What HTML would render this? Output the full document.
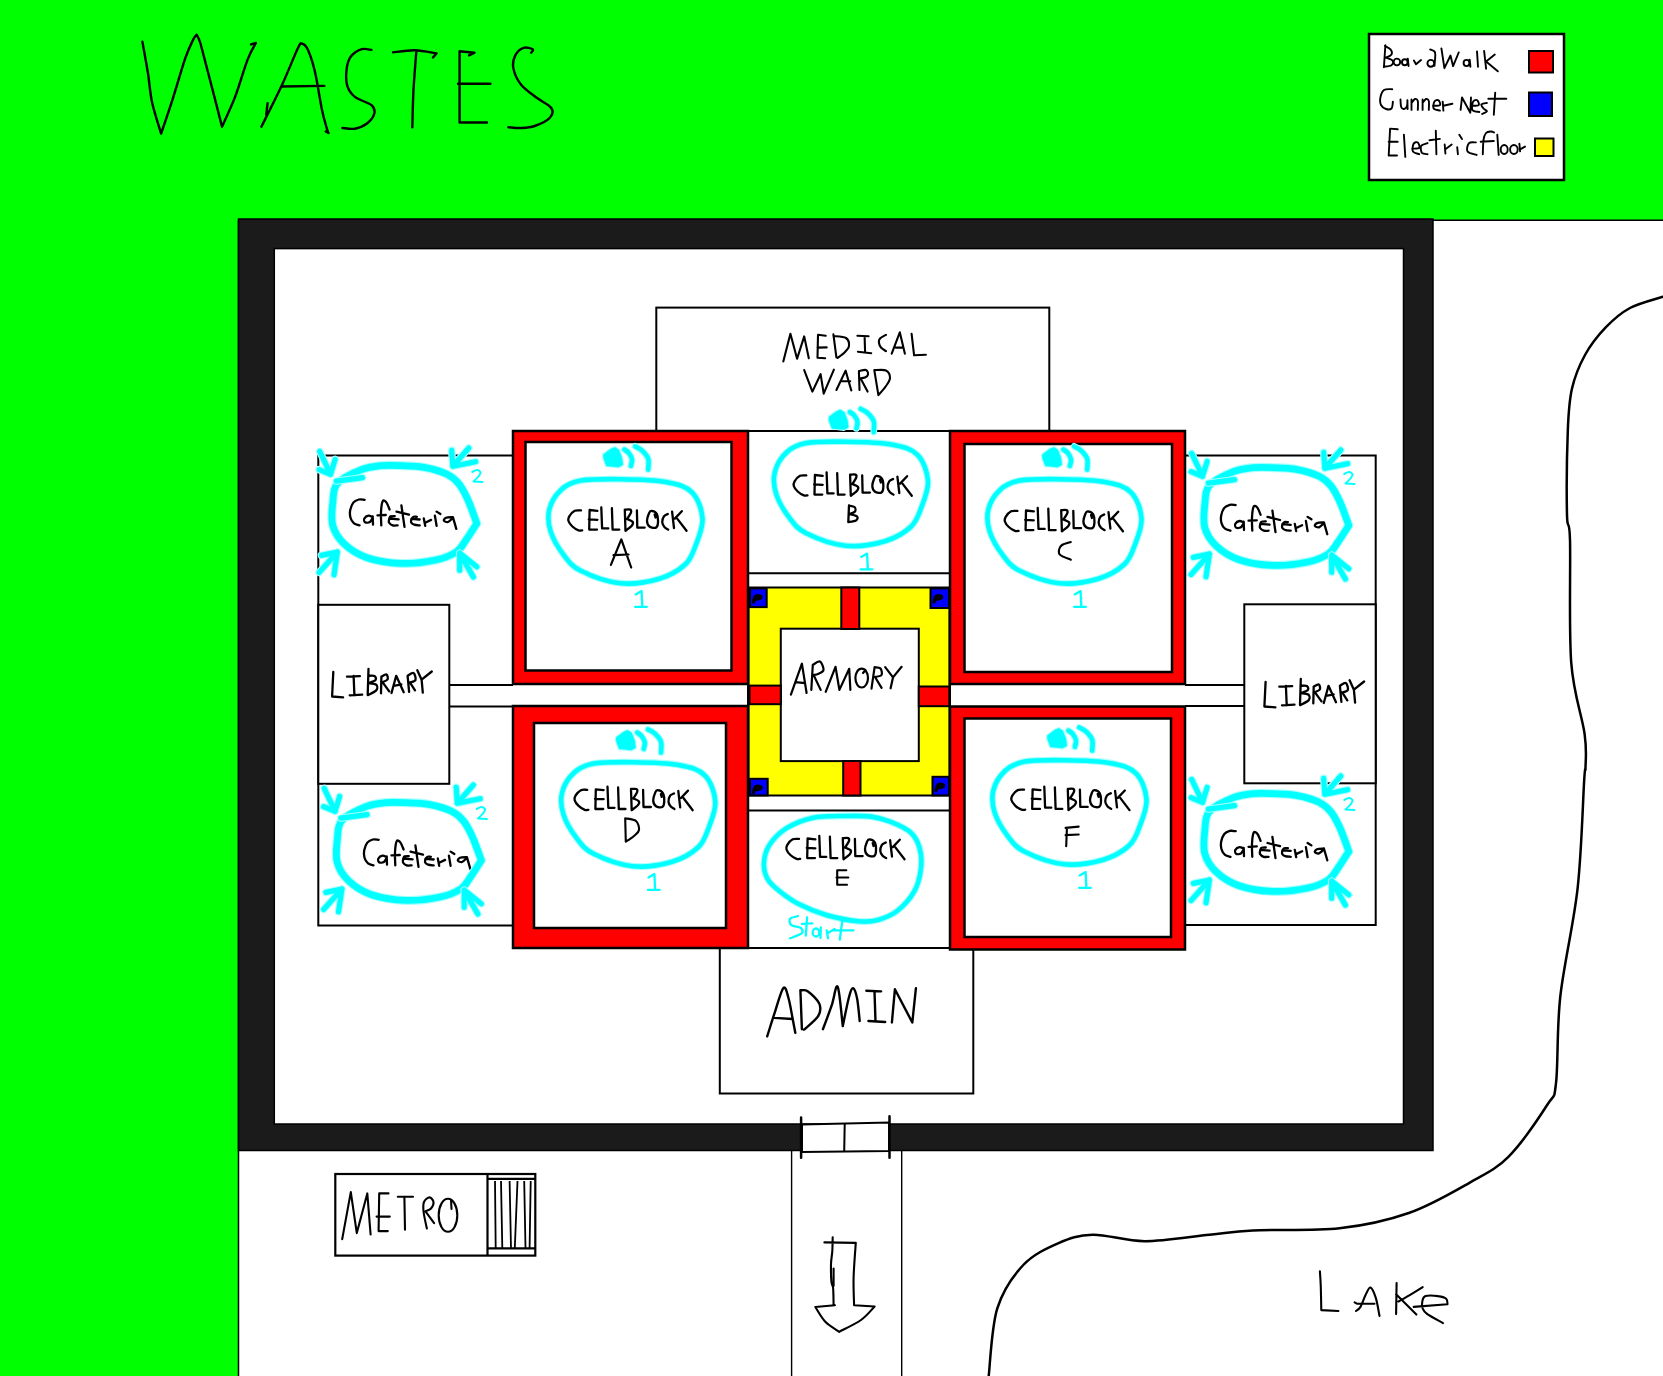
<!DOCTYPE html>
<html><head><meta charset="utf-8">
<style>
html,body{margin:0;padding:0;background:#fff;overflow:hidden;}
svg{display:block;}
</style></head>
<body>
<svg width="1663" height="1376" viewBox="0 0 1663 1376">
<g id="bg">
<rect x="0" y="0" width="1663" height="1376" fill="#fff"/>
<rect x="0" y="0" width="1663" height="220" fill="#00ff00"/>
<rect x="0" y="0" width="238" height="1376" fill="#00ff00"/>
<path d="M238.5,1376 L238.5,220 M1433,220.2 L1663,220.2" stroke="#000" stroke-width="1.5" fill="none"/>
</g>
<g id="frame">
<rect x="238.5" y="219" width="1194.5" height="931.5" fill="#1b1b1b" stroke="#000" stroke-width="1.5"/>
<rect x="274.3" y="248.6" width="1129.2" height="875.4" fill="#fff" stroke="#000" stroke-width="1.5"/>
</g>
<g id="legend">
<rect x="1369" y="34" width="195" height="146" fill="#fff" stroke="#000" stroke-width="2.5"/>
<rect x="1529" y="51" width="24" height="21.5" fill="#ff0000" stroke="#000" stroke-width="2"/>
<rect x="1529" y="92.5" width="23" height="23.5" fill="#0000ff" stroke="#000" stroke-width="2"/>
<rect x="1535" y="138.5" width="18.5" height="17.5" fill="#ffff00" stroke="#000" stroke-width="2"/>
</g>
<g id="rooms" fill="none" stroke="#000" stroke-width="2">
<rect x="656.3" y="307.6" width="393" height="123.5" fill="#fff"/>
<!-- left cafeteria / library -->
<path d="M513,455.5 L318.3,455.5 L318.3,925.5 L513,925.5"/>
<rect x="318.3" y="604.8" width="131" height="179" fill="#fff"/>
<path d="M449.4,685 L513,685 M449.4,706.5 L513,706.5"/>
<!-- right cafeteria / library -->
<path d="M1185,455.5 L1375.7,455.5 L1375.7,925 L1185,925"/>
<rect x="1244.3" y="604.3" width="131.4" height="179" fill="#fff"/>
<path d="M1185,685 L1244.3,685 M1185,706 L1244.3,706"/>
<!-- center column -->
<rect x="748" y="431" width="202" height="517" fill="#fff"/>
<path d="M748,573.3 L950,573.3 M748,810.5 L950,810.5"/>
<rect x="748.5" y="587.5" width="201" height="208" fill="#ffff00"/>
<rect x="780.8" y="628.7" width="138" height="132.4" fill="#fff"/>
<!-- admin -->
<rect x="719.8" y="948" width="253.5" height="145.5" fill="#fff"/>
</g>
<g id="armory-bars" stroke="#000" stroke-width="2">
<rect x="841.3" y="587.5" width="18" height="41.5" fill="#ff0000"/>
<rect x="843.2" y="761" width="17.3" height="34.5" fill="#ff0000"/>
<rect x="749.5" y="685.6" width="31.3" height="18.6" fill="#ff0000"/>
<rect x="918.8" y="686.5" width="30.5" height="19.7" fill="#ff0000"/>
<rect x="750" y="588.4" width="16.7" height="18.7" fill="#0000ff"/>
<rect x="930.5" y="588.4" width="18.5" height="19.6" fill="#0000ff"/>
<rect x="750" y="778.8" width="17.7" height="16.6" fill="#0000ff"/>
<rect x="932.5" y="776.8" width="16.5" height="18.6" fill="#0000ff"/>
</g>
<g id="cellblocks" stroke="#000" stroke-width="2.5">
<rect x="513" y="431" width="235" height="253" fill="#ff0000"/>
<rect x="525.5" y="442" width="206" height="228.5" fill="#fff"/>
<rect x="513" y="706" width="235" height="242" fill="#ff0000"/>
<rect x="534" y="723" width="192" height="205" fill="#fff"/>
<rect x="950" y="431" width="235" height="253" fill="#ff0000"/>
<rect x="964.5" y="444" width="207.5" height="228" fill="#fff"/>
<rect x="950" y="706.5" width="235" height="243" fill="#ff0000"/>
<rect x="964.5" y="718.5" width="206.5" height="218.5" fill="#fff"/>
</g>
<g id="bottom" fill="none" stroke="#000">
<path d="M791.6,1151 L791.6,1376 M901.7,1151 L901.7,1376" stroke-width="1.4"/>
<path d="M802,1124.5 L889,1122.5 L889,1151 L802,1152 Z" fill="#fff" stroke-width="2"/>
<path d="M844.7,1124 L844.2,1151.5" stroke-width="2"/>
<path d="M801.1,1117.6 L801.1,1157.7 M889.5,1116.2 L889.5,1157.7" stroke-width="2.5" stroke-linecap="round"/>
<rect x="335.3" y="1174" width="200" height="81.6" fill="#fff" stroke-width="2.2"/>
<path d="M487.5,1174 L487.5,1255.6 M487.5,1178.9 L535.3,1178.9 M487.5,1248.3 L536,1248.3" stroke-width="2.2"/>
<path d="M495,1181 L495.7,1248 M501,1181 L502.3,1248 M509.6,1181 L511,1248 M517.5,1181 L514.8,1248 M524.2,1181 L525.5,1248 M530.7,1181 L529.6,1248" stroke-width="1.8"/>
</g>
<g id="hand">
<path d="M142.4,41.6 C143.3,46.9 146.4,63.3 148,73.4 C149.6,83.6 149.9,92.5 152.1,102.5 C154.3,112.5 159.6,128.4 161.1,133.6 M161.1,133.6 C163.1,127.7 168.9,110.9 172.9,98.3 C176.9,85.7 182,67.9 185.3,58.2 C188.7,48.5 191.1,43.9 193,40 C194.9,36.1 196.1,35.6 196.7,34.7 M196.7,34.7 C197.2,35.9 198.7,37.9 200,42 C201.3,46.1 202.3,50.5 204.7,59.6 C207.1,68.8 211.5,85.7 214.4,96.9 C217.3,108.1 220.7,121.7 222,126.7 M222,126.7 C224.2,121.7 230.8,108.1 235.1,96.9 C239.4,85.7 244.1,68.6 247.6,59.6 C251.1,50.6 254.5,45.8 255.9,43 M255.9,43 L251,44.4 M261.4,126.7 C264.8,119.8 275.9,98.1 282,85 C288.1,71.9 294.6,54.9 298,48 C301.4,41.1 300.5,43.4 302.2,43.7 C303.9,44 305.9,45.3 308,50 C310.1,54.7 312.7,62 315,72 C317.3,82 320,100.5 322,110 C324,119.5 325.9,125.2 327,129 C328.1,132.8 328.2,132.2 328.5,132.9 M328.5,132.9 L325.7,131.5 M281.5,86.5 L324.3,85.9 M267.6,103.1 L266.2,114.9 M371.5,49.9 C369.9,49.8 365.3,48.1 361.8,49.2 C358.3,50.4 353.2,53.4 350.7,56.8 C348.2,60.1 347.2,64.4 346.6,69.3 C346,74.2 345.9,81.3 347.3,85.9 C348.7,90.5 350.9,93.7 354.9,96.9 C358.9,100.1 368.3,102.4 371.5,105.2 C374.7,108 375,110.5 374.3,113.5 C373.6,116.5 370.5,120.7 367.3,123.2 C364.1,125.7 359,127.9 354.9,128.7 C350.8,129.5 344.5,128.1 342.4,128 M393,52.4 C396.7,52 407.8,50.1 415,50.3 C422.2,50.5 432.9,52.9 436.5,53.4 M436.5,53.4 L433,57.5 M416.4,50.6 C415.9,57.2 414.2,77.2 413.5,90 C412.8,102.8 412.5,121.2 412.3,127.4 M474.5,52.7 L459.6,51.3 L459.6,122.5 L487,122.5 M474.5,52.7 L469,55.4 M458,83.8 L490.4,83.8 M531.2,52.7 C531.4,52.1 533.9,50 532.6,49.2 C531.3,48.4 526.5,46.8 523.6,47.8 C520.7,48.8 517,52 515.3,55.4 C513.6,58.8 512.4,63.1 513.3,67.9 C514.2,72.8 516.9,79.4 520.9,84.5 C524.9,89.6 532.4,94.4 537.5,98.3 C542.6,102.2 549.2,104.8 551.3,108 C553.4,111.2 552.7,114.7 549.9,117.7 C547.1,120.7 539.5,124.3 534.7,126 C529.9,127.7 525.3,127.8 520.9,128 C516.5,128.2 510.5,127.4 508.4,127.3" fill="none" stroke="#000" stroke-width="2.4" stroke-linecap="round" stroke-linejoin="round"/>
<path d="M1385.4,45.3 L1383.9,67.2 M1384.9,45.9 C1385.8,46.5 1389.4,48 1390.5,49.4 C1391.6,50.8 1392.3,53.1 1391.5,54.5 C1390.7,55.9 1386.8,57.1 1385.9,57.6 M1385.9,57.6 C1387,58.1 1391.7,59.3 1392.6,60.6 C1393.5,61.9 1393,64.2 1391.5,65.2 C1390,66.2 1385.2,66.5 1383.9,66.7 M1393.6,62 a3.3,3.4 0 1,0 6.6,0 a3.3,3.4 0 1,0 -6.6,0 M1402,62.3 a2.8,3 0 1,0 5.6,0 a2.8,3 0 1,0 -5.6,0 M1407.8,58.6 L1408.6,66 M1413.9,60.6 L1416,64.2 L1421,60.1 M1427.4,63.3 a3.4,3.4 0 1,0 6.8,0 a3.4,3.4 0 1,0 -6.8,0 M1430.2,49.4 C1430.9,49.8 1433.7,50.6 1434.5,51.5 C1435.3,52.4 1435.3,52.6 1435.3,55 C1435.3,57.4 1434.6,63.9 1434.5,65.7 M1441.4,48.4 L1444.4,68.2 L1450.5,55.5 L1453.1,66.2 L1458.7,52.5 M1463.6,63 a2.9,3.1 0 1,0 5.8,0 a2.9,3.1 0 1,0 -5.8,0 M1469.7,59.6 L1470.4,66.7 M1477,51.4 L1478,66.7 M1484.1,50.9 L1486.1,68.7 M1494.8,54.5 L1486.1,61.6 L1497.8,71.3 M1392.2,89.2 C1390.8,89.3 1386,88.6 1384,90 C1382,91.4 1380.9,95 1380.4,97.5 C1379.9,100 1380.1,103.1 1381,105 C1381.9,106.9 1384.2,108.4 1386,109 C1387.8,109.6 1390.3,109.7 1391.5,108.5 C1392.7,107.3 1392.7,102.8 1392.9,101.6 M1400.5,99.5 C1400.6,100.8 1400.6,105.4 1401.2,107 C1401.8,108.6 1403,109.2 1404,109 C1405,108.8 1406.4,107.5 1407,106 C1407.6,104.5 1407.3,101.2 1407.4,100.2 M1407.4,100.2 L1407.6,109 M1411.5,99.5 L1411.5,109.9 M1411.5,103 C1412.1,102.3 1414,99.3 1415,99 C1416,98.7 1417.3,99.2 1417.8,101 C1418.3,102.8 1417.8,108.4 1417.8,109.9 M1422.6,99.5 L1422.6,109.9 M1422.6,103 C1423.2,102.3 1425,99.3 1426,99 C1427,98.7 1428.3,99.2 1428.8,101 C1429.3,102.8 1428.8,108.4 1428.8,109.9 M1433,105.8 C1434.2,105.7 1439,106 1439.9,105.1 C1440.8,104.2 1439.4,100.8 1438.5,100.2 C1437.6,99.6 1435.2,100.2 1434.4,101.6 C1433.6,103 1432.8,107 1433.7,108.5 C1434.6,110 1438.9,110.2 1439.9,110.6 M1442.7,101.6 L1443.4,110.6 M1443.4,105.8 L1452.4,103.7 M1460.6,109.9 L1462,97.5 L1470.3,112.7 L1471,97.5 M1471.7,105.8 C1472.8,105.7 1477.7,106 1478.6,105.1 C1479.5,104.2 1478.1,100.8 1477.2,100.2 C1476.3,99.6 1473.9,100 1473.1,101.6 C1472.3,103.2 1471.4,108.2 1472.4,109.9 C1473.4,111.6 1478.2,111.7 1479.3,112 M1486.9,103 C1486,103.2 1482,103.5 1481.4,104.4 C1480.8,105.3 1482.6,107.3 1483.5,108.5 C1484.4,109.7 1487.1,110.4 1486.9,111.3 C1486.7,112.2 1482.9,113.5 1482.1,114 M1495.2,92.6 L1493.8,114.7 M1488.3,98.8 L1506.3,98.8 M1397.7,129.3 L1390.1,128.6 L1388.7,155.5 L1397,155.5 M1388.7,141.7 L1397.7,141.7 M1403.9,134.8 L1405.3,156.9 M1412.2,148.6 C1413.4,148.5 1418.3,148.9 1419.2,147.9 C1420.1,146.9 1418.7,143.1 1417.8,142.4 C1416.9,141.7 1414.4,142.3 1413.6,143.8 C1412.8,145.3 1412,149.7 1412.9,151.4 C1413.8,153.1 1418.2,153.7 1419.2,154.2 M1427.5,143.1 C1426.5,143.6 1422.1,144.3 1421.2,145.9 C1420.3,147.5 1420.9,151.4 1421.9,152.8 C1423,154.2 1426.6,154 1427.5,154.2 M1435.8,130.6 L1436.4,154.2 M1429.5,140.3 L1439.9,138.9 M1444.7,144.5 L1445.4,153.5 M1445.4,149.3 L1451.7,144.5 M1457.2,147.2 L1457.9,154.2 M1459.3,134.8 L1462,139 M1475.9,142.4 C1474.8,142.5 1470.4,141.6 1469,143.1 C1467.6,144.6 1466.3,149.4 1467.6,151.4 C1468.9,153.4 1475.1,154.3 1476.6,154.9 M1482.8,154.2 C1482.9,151.8 1483,143.5 1483.5,140 C1484,136.5 1484.8,134.4 1486,133 C1487.2,131.6 1489.7,131.6 1491,131.5 C1492.3,131.4 1493.5,132.3 1494,132.5 M1480.7,141.7 L1493.8,141 M1497.3,134.8 L1498.7,154.9 M1500.7,149.5 a3.5,4.5 0 1,0 7,0 a3.5,4.5 0 1,0 -7,0 M1510.1,149.5 a3.8,4.5 0 1,0 7.6,0 a3.8,4.5 0 1,0 -7.6,0 M1519.4,143.8 L1520.1,151.4 M1520.1,149.3 L1525,146.6" fill="none" stroke="#000" stroke-width="1.9" stroke-linecap="round" stroke-linejoin="round"/>
<path d="M783.3,361.4 L790.4,333.8 L797.1,358.8 L804.2,336.4 L808.8,358.3 M825.7,335.8 L818,334.8 L817.5,357.8 L825.2,358.3 M817.5,347.6 L826.7,347.4 M833.4,334.3 L836.4,357.3 M833.4,336 C835.5,336.3 843.4,336.3 846,338 C848.6,339.7 849.2,343.7 849,346 C848.8,348.3 846.9,350 845,352 C843.1,354 838.8,357 837.5,358 M857.4,335.8 L868.6,336.2 M864.6,336.4 L865.1,352.2 M857.9,351.7 L871.2,353.2 M886,334.8 C885,335.4 881.2,337.2 880,338.5 C878.8,339.8 878.7,341 878.9,342.5 C879.1,344 879.8,346.1 881,347.5 C882.2,348.9 885.2,350.6 886,351.2 M891.7,353.7 L899.8,332.3 L904.9,353.7 M895.7,347.6 L903.4,347.6 M911.6,333.8 L914.1,355.3 L925.9,354.8 M804.2,370.1 L812.4,391.6 L820.6,374.2 L823.7,393.6 L833.9,369.6 M836.4,390 L845.6,370.6 L851.3,390.5 M841.6,381.3 L850.2,381.3 M858.9,371.1 L859.5,390 M858.9,371.1 C860.1,370.9 864.5,369.4 866,370 C867.5,370.6 868.2,373.2 868,374.5 C867.8,375.8 866.3,376.9 865,377.5 C863.7,378.1 860.8,378.2 860,378.3 M860.5,378.3 L867.6,391.6 M874.3,370.1 L878.4,395.1 M874.3,370.1 C876.2,370.2 883.4,369.2 886,370.5 C888.6,371.8 890,375.4 890,378 C890,380.6 887.9,383.1 886,386 C884.1,388.9 879.7,393.6 878.4,395.1" fill="none" stroke="#000" stroke-width="2.1" stroke-linecap="round" stroke-linejoin="round"/>
<path d="M767.2,1036.3 C768.6,1032 772.6,1018.9 775.3,1010.8 C778,1002.7 781.3,989.8 783.5,987.8 C785.7,985.8 787.1,993.3 788.6,998.5 C790.1,1003.7 791.6,1013.3 792.7,1019 C793.8,1024.7 794.9,1030.5 795.3,1032.8 M774.3,1017.9 L792.7,1019 M800.4,990.3 L801.9,1029.2 M800.4,990.3 C801.7,990.5 804.9,989.2 808,991.4 C811.1,993.6 817.6,999.5 819.3,1003.6 C821,1007.7 820.8,1011.5 818.3,1015.9 C815.8,1020.2 806.4,1027.4 804,1029.7 M822.9,1029.2 C824.4,1025.3 829.1,1012.8 831.6,1005.7 C834.1,998.6 835.8,983.4 837.7,986.8 C839.6,990.2 841.9,1019.5 842.8,1026.1 M842.8,1026.1 C843.8,1021.3 847.2,1003.8 848.9,997.5 C850.6,991.2 851.6,988.1 853,988.3 C854.4,988.5 856,993 857.1,998.5 C858.2,1004 859.3,1017.2 859.7,1021 M866.3,990.8 L881.1,991.4 M874.5,991.4 L875.5,1021.5 M868.4,1021 L885.2,1022 M891.9,1022.5 L894.9,989.3 L912.3,1022.5 L915.9,988.3" fill="none" stroke="#000" stroke-width="2.4" stroke-linecap="round" stroke-linejoin="round"/>
<g><path d="M333.3,671.9 L332.1,696.5 L343.1,697.3 M347,676.6 L359.9,676.2 M353.6,675.8 L354.4,695.3 M349.7,695.3 L362.2,694.6 M368.5,668.8 L367.7,695 M368.5,675.8 C369.5,675.8 373.3,675.3 374.5,676 C375.7,676.7 376.5,678.8 375.5,680 C374.5,681.2 369.7,682.7 368.5,683.2 M368.5,683.2 C369.8,683.4 374.7,683.4 376,684.5 C377.3,685.6 377.8,688.2 376.5,690 C375.2,691.8 369.5,694.2 368.1,695 M381.4,676.6 L381,693.4 M381.4,676.6 C382.2,676.2 385.5,674 386.5,674.5 C387.5,675 388.2,678.2 387.5,679.5 C386.8,680.8 383.3,681.7 382.5,682.1 M382.5,682.1 L389.2,691.4 M391.5,693 L396.2,675.8 L403.7,692.2 M395.1,685.6 L401.3,684.4 M407.6,675.8 L409.1,691.8 M407.6,675.8 C408.6,675.3 412.2,672.3 413.5,673 C414.8,673.7 416.1,678.4 415.5,680 C414.9,681.6 410.8,682 409.9,682.4 M409.9,682.4 L415,690.3 M417.3,670.3 L421.6,679.7 L431.8,671.5 M421.6,679.7 L422.8,692.6" fill="none" stroke="#000" stroke-width="2.3" stroke-linecap="round" stroke-linejoin="round"/></g>
<g transform="translate(932.3,10)"><path d="M333.3,671.9 L332.1,696.5 L343.1,697.3 M347,676.6 L359.9,676.2 M353.6,675.8 L354.4,695.3 M349.7,695.3 L362.2,694.6 M368.5,668.8 L367.7,695 M368.5,675.8 C369.5,675.8 373.3,675.3 374.5,676 C375.7,676.7 376.5,678.8 375.5,680 C374.5,681.2 369.7,682.7 368.5,683.2 M368.5,683.2 C369.8,683.4 374.7,683.4 376,684.5 C377.3,685.6 377.8,688.2 376.5,690 C375.2,691.8 369.5,694.2 368.1,695 M381.4,676.6 L381,693.4 M381.4,676.6 C382.2,676.2 385.5,674 386.5,674.5 C387.5,675 388.2,678.2 387.5,679.5 C386.8,680.8 383.3,681.7 382.5,682.1 M382.5,682.1 L389.2,691.4 M391.5,693 L396.2,675.8 L403.7,692.2 M395.1,685.6 L401.3,684.4 M407.6,675.8 L409.1,691.8 M407.6,675.8 C408.6,675.3 412.2,672.3 413.5,673 C414.8,673.7 416.1,678.4 415.5,680 C414.9,681.6 410.8,682 409.9,682.4 M409.9,682.4 L415,690.3 M417.3,670.3 L421.6,679.7 L431.8,671.5 M421.6,679.7 L422.8,692.6" fill="none" stroke="#000" stroke-width="2.3" stroke-linecap="round" stroke-linejoin="round"/></g>
<path d="M790.9,694.6 L801.9,663.7 L806.6,693 M795.6,682.1 L805,683.2 M811.3,689.9 L812.8,664.9 M812.8,664.9 C814,664.3 818.2,660.6 820,661.5 C821.8,662.4 823.8,667.9 823.5,670 C823.2,672.1 819.6,673.2 818,674 C816.4,674.8 814.3,674.8 813.6,675 M813.6,675 L820.7,689.9 M825.7,691.8 L835.5,666.8 L839.4,689.9 L849.2,668.8 L850.4,689.9 M855.4,678.1 a6.3,9.4 0 1,0 12.6,0 a6.3,9.4 0 1,0 -12.6,0 M865.5,670 L863,673 M871.5,688.7 L874.6,667.2 M874.6,667.2 C875.6,667.4 879.4,667.2 880.5,668.5 C881.6,669.8 882.4,673.6 881.5,675 C880.6,676.4 876.1,676.7 875,677 M875,677 L881.6,687.9 M885.2,667.2 L893,677.4 L901.6,666.8 M893,677.4 L890.6,688.3" fill="none" stroke="#000" stroke-width="2.2" stroke-linecap="round" stroke-linejoin="round"/>
<path d="M342.2,1239.1 L350.8,1192.1 L356.8,1233.1 L367.3,1193.4 L370.6,1234.5 M388.5,1193.4 L379.2,1193.4 L378.6,1231.1 L387.8,1231.1 M376.6,1216.6 L389.8,1216.6 M397.8,1196.8 L413,1196.8 M404.4,1197.4 L405,1229.8 M426.9,1228.5 C426.3,1225.8 424.1,1216.4 423.6,1212 C423.1,1207.6 423,1204.4 424,1202 C425,1199.6 427.9,1197.4 429.5,1197.4 C431.1,1197.4 433.2,1200.2 433.5,1202 C433.8,1203.8 432.3,1207 431,1208.5 C429.7,1210 426.4,1210.8 425.5,1211.3 M425.5,1211.3 L434.1,1223.2 M438.7,1215.3 a9.3,16.5 0 1,0 18.6,0 a9.3,16.5 0 1,0 -18.6,0 M451,1199.5 L451.5,1209" fill="none" stroke="#000" stroke-width="2.1" stroke-linecap="round" stroke-linejoin="round"/>
<path d="M1319.9,1271.3 C1320.1,1273.9 1320.6,1280.6 1320.8,1287.1 C1321,1293.6 1321.2,1306.3 1321.3,1310.1 M1321.3,1310.1 L1338.4,1311 M1356,1311 C1356.8,1310.3 1358.8,1309.7 1360.5,1306.9 C1362.2,1304.1 1364.2,1297.5 1365.9,1294.3 C1367.6,1291.1 1368.8,1286.9 1370.4,1287.5 C1372.1,1288.1 1374.3,1293.2 1375.8,1297.9 C1377.3,1302.6 1378.9,1312.9 1379.5,1315.9 M1354.6,1302.4 L1356.9,1303.7 L1374.5,1303.7 M1396.6,1283 L1396.1,1314.1 M1422.7,1287.1 C1420.8,1288.3 1415,1291.9 1411,1294.3 C1407,1296.7 1400.5,1300.3 1398.4,1301.5 M1396.1,1294.3 L1416.4,1314.6 M1413.7,1306.9 L1447.5,1304.2 M1447.5,1304.2 C1447.3,1303.3 1447.8,1300.2 1446.2,1298.8 C1444.6,1297.4 1441.5,1296.5 1438.1,1296.1 C1434.6,1295.6 1428.1,1295.2 1425.5,1296.1 C1422.9,1297 1422.8,1299.4 1422.3,1301.5 C1421.8,1303.6 1421.9,1306.6 1422.7,1308.7 C1423.5,1310.8 1423.9,1311.7 1427.3,1314.1 C1430.7,1316.5 1440.4,1321.6 1443,1323.1" fill="none" stroke="#000" stroke-width="2.1" stroke-linecap="round" stroke-linejoin="round"/>
<path d="M1663,296.7 C1657.5,298.6 1639.5,302.9 1630,308 C1620.5,313.1 1613.2,319.6 1605.7,327.4 C1598.2,335.2 1590.6,344.8 1585,355 C1579.4,365.2 1574.9,375.9 1572,388.5 C1569.1,401.1 1568.6,409.5 1567.8,430.6 C1567,451.7 1566.6,496.7 1567,514.9 C1567.4,533.1 1569.3,515.4 1570,540 C1570.7,564.6 1568.8,630 1571.2,662.3 C1573.6,694.6 1582.2,716.3 1584.6,733.9 C1587,751.5 1585.6,759.9 1585.5,767.6 C1585.4,775.3 1585.5,759.9 1584.2,780 C1582.9,800.1 1581.6,852.2 1577.6,888.3 C1573.6,924.4 1563.9,964 1560.3,996.5 C1556.7,1029 1558.2,1065.2 1556,1083.2 C1553.8,1101.2 1555.2,1092.5 1547.3,1104.8 C1539.4,1117.1 1521.4,1143.8 1508.4,1156.8 C1495.4,1169.8 1486,1173.4 1469.4,1182.8 C1452.8,1192.2 1430.5,1205.4 1408.8,1213 C1387.1,1220.6 1365.5,1225.4 1339.5,1228.3 C1313.5,1231.2 1274.5,1229.3 1252.8,1230.4 C1231.1,1231.5 1227.5,1232.9 1209.5,1234.7 C1191.5,1236.5 1164.1,1241.2 1144.6,1241.2 C1125.1,1241.2 1107,1234.3 1092.6,1234.7 C1078.2,1235.1 1069.5,1238.4 1058,1243.4 C1046.5,1248.5 1033.4,1254.2 1023.3,1265 C1013.2,1275.8 1003.1,1289.9 997.3,1308.4 C991.5,1326.9 990.1,1364.7 988.7,1376" fill="none" stroke="#000" stroke-width="2.5" stroke-linecap="round" stroke-linejoin="round"/>
<path d="M824.4,1242.4 L855.8,1242.9 M832.7,1237.2 C832.6,1239.5 832.6,1246.7 832.3,1251.2 C832,1255.7 831.1,1259.1 831,1264.2 C830.9,1269.3 831,1277.7 831.4,1281.7 C831.8,1285.7 832.7,1284.2 833.1,1288 C833.5,1291.8 833.5,1301.7 833.6,1304.4 M833.6,1268.6 L833.6,1286 M855.8,1242.9 C855.4,1248.6 853.9,1266.9 853.6,1277.3 C853.3,1287.7 854,1300.5 854.1,1305.2 M834.9,1305.2 L815.3,1307 M815.3,1307 C817,1309.5 821.3,1317.7 825.3,1321.8 C829.3,1325.9 836.9,1330.1 839.2,1331.8 M839.2,1331.8 C842.8,1329.8 855.1,1324.2 861,1320 C866.9,1315.8 872.3,1308.8 874.6,1306.5 M874.6,1306.5 L854.1,1305.2" fill="none" stroke="#000" stroke-width="2.1" stroke-linecap="round" stroke-linejoin="round"/>
<g transform="translate(0,0)"><path d="M581,510.4 C580,510.5 576.7,509.8 574.7,510.8 C572.8,511.8 570.3,514.6 569.3,516.3 C568.3,518 568,519.3 568.5,521 C569,522.7 570.7,524.9 572.4,526.5 C574.1,528.1 577,529.8 578.6,530.4 C580.2,531 581.6,530.4 582.2,530.4 M597.4,510.8 L589.6,510 L589.2,529.6 L597,529.6 M588.8,519.4 L597.4,519.8 M601.3,507.3 L602.1,528.4 L608.3,528.4 M611.9,508.1 L612.6,529.6 L619.3,529.6 M624.8,510 L625.5,530.8 M624.8,509.6 C625.7,509.6 629.2,509.1 630.2,509.6 C631.2,510.1 631.5,510.8 631,512.4 C630.5,514 627.8,517.9 627.1,519 M627.1,519 C628,519.5 631.8,520.7 632.6,521.8 C633.4,522.9 633,524.2 631.8,525.7 C630.6,527.2 626.5,529.9 625.5,530.8 M636.9,510.4 L637.3,527.6 L644.7,527.6 M651.3,510.8 C652.6,510.9 655.7,511.9 656.8,513.9 C657.9,515.9 658.1,520.2 658,522.5 C657.9,524.8 657.4,526.9 656,527.6 C654.6,528.3 651.3,527.9 649.8,526.8 C648.3,525.7 647.1,523.3 647,521 C646.9,518.7 648.3,514.9 649,513.2 C649.7,511.5 650,510.7 651.3,510.8 Z M654.7,514.7 L655.5,517.5 M667.8,514 C667.1,514.4 664.8,514.9 663.9,516.3 C663,517.7 662.2,520.7 662.3,522.5 C662.4,524.3 663.6,526 664.6,527.2 C665.6,528.4 667.6,529.2 668.2,529.6 M672.1,511.6 L674,528 M681.8,511.2 L674.8,518.6 M677.2,518.6 L686.5,530.8" fill="none" stroke="#000" stroke-width="2.3" stroke-linecap="round" stroke-linejoin="round"/></g>
<g transform="translate(225.3,-35)"><path d="M581,510.4 C580,510.5 576.7,509.8 574.7,510.8 C572.8,511.8 570.3,514.6 569.3,516.3 C568.3,518 568,519.3 568.5,521 C569,522.7 570.7,524.9 572.4,526.5 C574.1,528.1 577,529.8 578.6,530.4 C580.2,531 581.6,530.4 582.2,530.4 M597.4,510.8 L589.6,510 L589.2,529.6 L597,529.6 M588.8,519.4 L597.4,519.8 M601.3,507.3 L602.1,528.4 L608.3,528.4 M611.9,508.1 L612.6,529.6 L619.3,529.6 M624.8,510 L625.5,530.8 M624.8,509.6 C625.7,509.6 629.2,509.1 630.2,509.6 C631.2,510.1 631.5,510.8 631,512.4 C630.5,514 627.8,517.9 627.1,519 M627.1,519 C628,519.5 631.8,520.7 632.6,521.8 C633.4,522.9 633,524.2 631.8,525.7 C630.6,527.2 626.5,529.9 625.5,530.8 M636.9,510.4 L637.3,527.6 L644.7,527.6 M651.3,510.8 C652.6,510.9 655.7,511.9 656.8,513.9 C657.9,515.9 658.1,520.2 658,522.5 C657.9,524.8 657.4,526.9 656,527.6 C654.6,528.3 651.3,527.9 649.8,526.8 C648.3,525.7 647.1,523.3 647,521 C646.9,518.7 648.3,514.9 649,513.2 C649.7,511.5 650,510.7 651.3,510.8 Z M654.7,514.7 L655.5,517.5 M667.8,514 C667.1,514.4 664.8,514.9 663.9,516.3 C663,517.7 662.2,520.7 662.3,522.5 C662.4,524.3 663.6,526 664.6,527.2 C665.6,528.4 667.6,529.2 668.2,529.6 M672.1,511.6 L674,528 M681.8,511.2 L674.8,518.6 M677.2,518.6 L686.5,530.8" fill="none" stroke="#000" stroke-width="2.3" stroke-linecap="round" stroke-linejoin="round"/></g>
<g transform="translate(436.4,0.5)"><path d="M581,510.4 C580,510.5 576.7,509.8 574.7,510.8 C572.8,511.8 570.3,514.6 569.3,516.3 C568.3,518 568,519.3 568.5,521 C569,522.7 570.7,524.9 572.4,526.5 C574.1,528.1 577,529.8 578.6,530.4 C580.2,531 581.6,530.4 582.2,530.4 M597.4,510.8 L589.6,510 L589.2,529.6 L597,529.6 M588.8,519.4 L597.4,519.8 M601.3,507.3 L602.1,528.4 L608.3,528.4 M611.9,508.1 L612.6,529.6 L619.3,529.6 M624.8,510 L625.5,530.8 M624.8,509.6 C625.7,509.6 629.2,509.1 630.2,509.6 C631.2,510.1 631.5,510.8 631,512.4 C630.5,514 627.8,517.9 627.1,519 M627.1,519 C628,519.5 631.8,520.7 632.6,521.8 C633.4,522.9 633,524.2 631.8,525.7 C630.6,527.2 626.5,529.9 625.5,530.8 M636.9,510.4 L637.3,527.6 L644.7,527.6 M651.3,510.8 C652.6,510.9 655.7,511.9 656.8,513.9 C657.9,515.9 658.1,520.2 658,522.5 C657.9,524.8 657.4,526.9 656,527.6 C654.6,528.3 651.3,527.9 649.8,526.8 C648.3,525.7 647.1,523.3 647,521 C646.9,518.7 648.3,514.9 649,513.2 C649.7,511.5 650,510.7 651.3,510.8 Z M654.7,514.7 L655.5,517.5 M667.8,514 C667.1,514.4 664.8,514.9 663.9,516.3 C663,517.7 662.2,520.7 662.3,522.5 C662.4,524.3 663.6,526 664.6,527.2 C665.6,528.4 667.6,529.2 668.2,529.6 M672.1,511.6 L674,528 M681.8,511.2 L674.8,518.6 M677.2,518.6 L686.5,530.8" fill="none" stroke="#000" stroke-width="2.3" stroke-linecap="round" stroke-linejoin="round"/></g>
<g transform="translate(6.2,279.4)"><path d="M581,510.4 C580,510.5 576.7,509.8 574.7,510.8 C572.8,511.8 570.3,514.6 569.3,516.3 C568.3,518 568,519.3 568.5,521 C569,522.7 570.7,524.9 572.4,526.5 C574.1,528.1 577,529.8 578.6,530.4 C580.2,531 581.6,530.4 582.2,530.4 M597.4,510.8 L589.6,510 L589.2,529.6 L597,529.6 M588.8,519.4 L597.4,519.8 M601.3,507.3 L602.1,528.4 L608.3,528.4 M611.9,508.1 L612.6,529.6 L619.3,529.6 M624.8,510 L625.5,530.8 M624.8,509.6 C625.7,509.6 629.2,509.1 630.2,509.6 C631.2,510.1 631.5,510.8 631,512.4 C630.5,514 627.8,517.9 627.1,519 M627.1,519 C628,519.5 631.8,520.7 632.6,521.8 C633.4,522.9 633,524.2 631.8,525.7 C630.6,527.2 626.5,529.9 625.5,530.8 M636.9,510.4 L637.3,527.6 L644.7,527.6 M651.3,510.8 C652.6,510.9 655.7,511.9 656.8,513.9 C657.9,515.9 658.1,520.2 658,522.5 C657.9,524.8 657.4,526.9 656,527.6 C654.6,528.3 651.3,527.9 649.8,526.8 C648.3,525.7 647.1,523.3 647,521 C646.9,518.7 648.3,514.9 649,513.2 C649.7,511.5 650,510.7 651.3,510.8 Z M654.7,514.7 L655.5,517.5 M667.8,514 C667.1,514.4 664.8,514.9 663.9,516.3 C663,517.7 662.2,520.7 662.3,522.5 C662.4,524.3 663.6,526 664.6,527.2 C665.6,528.4 667.6,529.2 668.2,529.6 M672.1,511.6 L674,528 M681.8,511.2 L674.8,518.6 M677.2,518.6 L686.5,530.8" fill="none" stroke="#000" stroke-width="2.3" stroke-linecap="round" stroke-linejoin="round"/></g>
<g transform="translate(443,279.3)"><path d="M581,510.4 C580,510.5 576.7,509.8 574.7,510.8 C572.8,511.8 570.3,514.6 569.3,516.3 C568.3,518 568,519.3 568.5,521 C569,522.7 570.7,524.9 572.4,526.5 C574.1,528.1 577,529.8 578.6,530.4 C580.2,531 581.6,530.4 582.2,530.4 M597.4,510.8 L589.6,510 L589.2,529.6 L597,529.6 M588.8,519.4 L597.4,519.8 M601.3,507.3 L602.1,528.4 L608.3,528.4 M611.9,508.1 L612.6,529.6 L619.3,529.6 M624.8,510 L625.5,530.8 M624.8,509.6 C625.7,509.6 629.2,509.1 630.2,509.6 C631.2,510.1 631.5,510.8 631,512.4 C630.5,514 627.8,517.9 627.1,519 M627.1,519 C628,519.5 631.8,520.7 632.6,521.8 C633.4,522.9 633,524.2 631.8,525.7 C630.6,527.2 626.5,529.9 625.5,530.8 M636.9,510.4 L637.3,527.6 L644.7,527.6 M651.3,510.8 C652.6,510.9 655.7,511.9 656.8,513.9 C657.9,515.9 658.1,520.2 658,522.5 C657.9,524.8 657.4,526.9 656,527.6 C654.6,528.3 651.3,527.9 649.8,526.8 C648.3,525.7 647.1,523.3 647,521 C646.9,518.7 648.3,514.9 649,513.2 C649.7,511.5 650,510.7 651.3,510.8 Z M654.7,514.7 L655.5,517.5 M667.8,514 C667.1,514.4 664.8,514.9 663.9,516.3 C663,517.7 662.2,520.7 662.3,522.5 C662.4,524.3 663.6,526 664.6,527.2 C665.6,528.4 667.6,529.2 668.2,529.6 M672.1,511.6 L674,528 M681.8,511.2 L674.8,518.6 M677.2,518.6 L686.5,530.8" fill="none" stroke="#000" stroke-width="2.3" stroke-linecap="round" stroke-linejoin="round"/></g>
<g transform="translate(218,328.5)"><path d="M581,510.4 C580,510.5 576.7,509.8 574.7,510.8 C572.8,511.8 570.3,514.6 569.3,516.3 C568.3,518 568,519.3 568.5,521 C569,522.7 570.7,524.9 572.4,526.5 C574.1,528.1 577,529.8 578.6,530.4 C580.2,531 581.6,530.4 582.2,530.4 M597.4,510.8 L589.6,510 L589.2,529.6 L597,529.6 M588.8,519.4 L597.4,519.8 M601.3,507.3 L602.1,528.4 L608.3,528.4 M611.9,508.1 L612.6,529.6 L619.3,529.6 M624.8,510 L625.5,530.8 M624.8,509.6 C625.7,509.6 629.2,509.1 630.2,509.6 C631.2,510.1 631.5,510.8 631,512.4 C630.5,514 627.8,517.9 627.1,519 M627.1,519 C628,519.5 631.8,520.7 632.6,521.8 C633.4,522.9 633,524.2 631.8,525.7 C630.6,527.2 626.5,529.9 625.5,530.8 M636.9,510.4 L637.3,527.6 L644.7,527.6 M651.3,510.8 C652.6,510.9 655.7,511.9 656.8,513.9 C657.9,515.9 658.1,520.2 658,522.5 C657.9,524.8 657.4,526.9 656,527.6 C654.6,528.3 651.3,527.9 649.8,526.8 C648.3,525.7 647.1,523.3 647,521 C646.9,518.7 648.3,514.9 649,513.2 C649.7,511.5 650,510.7 651.3,510.8 Z M654.7,514.7 L655.5,517.5 M667.8,514 C667.1,514.4 664.8,514.9 663.9,516.3 C663,517.7 662.2,520.7 662.3,522.5 C662.4,524.3 663.6,526 664.6,527.2 C665.6,528.4 667.6,529.2 668.2,529.6 M672.1,511.6 L674,528 M681.8,511.2 L674.8,518.6 M677.2,518.6 L686.5,530.8" fill="none" stroke="#000" stroke-width="2.3" stroke-linecap="round" stroke-linejoin="round"/></g>
<path d="M610.9,564.9 L621.3,539.4 L631.2,567.5 M613.5,555.1 L628.5,554.5" fill="none" stroke="#000" stroke-width="2.2" stroke-linecap="round" stroke-linejoin="round"/>
<path d="M849,505.5 L848.3,522 M849,505.5 C849.9,505.8 853.5,506 854.5,507 C855.5,508 855.8,510.3 855,511.5 C854.2,512.7 850.4,513.6 849.5,514 M849.5,514 C850.8,514.4 855.9,515.4 857,516.5 C858.1,517.6 857.5,519.6 856,520.5 C854.5,521.4 849.6,521.8 848.3,522" fill="none" stroke="#000" stroke-width="2.3" stroke-linecap="round" stroke-linejoin="round"/>
<path d="M1070.8,542 C1069.3,542.5 1064,543.7 1062,545 C1060,546.3 1059.3,548.2 1059,549.9 C1058.7,551.6 1058.3,553.4 1060.3,555 C1062.3,556.6 1069,558.9 1070.8,559.7" fill="none" stroke="#000" stroke-width="2.1" stroke-linecap="round" stroke-linejoin="round"/>
<path d="M625.2,818.2 L625.8,841.7 M625.2,818.2 C627,818.7 633.7,819 636,821 C638.3,823 639.3,827.5 639,830 C638.7,832.5 636.2,834 634,836 C631.8,838 627.2,840.8 625.8,841.7" fill="none" stroke="#000" stroke-width="2.1" stroke-linecap="round" stroke-linejoin="round"/>
<path d="M846.3,870.3 L837.2,870.3 L837.2,884.7 L847,884.7 M836.5,877.5 L848.3,877.5" fill="none" stroke="#000" stroke-width="2.1" stroke-linecap="round" stroke-linejoin="round"/>
<path d="M1066.9,828.6 L1066.2,846.2 M1065.6,827.9 L1078.7,826.6 M1065.6,835.1 L1078.7,834.5" fill="none" stroke="#000" stroke-width="2.1" stroke-linecap="round" stroke-linejoin="round"/>
<g transform="translate(0,0)"><path d="M364.7,499.8 C363.7,499.8 360.7,499 358.8,499.5 C356.9,500 354.7,500.8 353.3,502.6 C351.9,504.4 350.7,507.7 350.2,510.2 C349.7,512.7 349.9,515.6 350.5,517.8 C351.1,520 352.5,522.1 354,523.4 C355.5,524.7 358.6,525.1 359.5,525.4 M372.7,517.1 C372,516.9 369.9,515.5 368.5,515.7 C367.1,515.9 365,517.4 364.4,518.5 C363.8,519.6 364.2,521.7 365.1,522.3 C366,522.9 368.6,522.8 369.9,522 C371.2,521.2 372.2,518.5 372.7,517.8 M372.7,516.4 L373,524.7 M381.3,525.4 C381.2,523.2 380.8,516.3 381,512.3 C381.2,508.3 381.8,502.8 382.7,501.2 C383.6,499.6 385.4,501.2 386.5,502.6 C387.6,504 389.1,508.4 389.6,509.5 M377.5,515.4 L385.8,515 M398.6,519.3 L389.3,518.5 M389.3,518.5 C389.2,519.2 388.4,521.4 389,522.5 C389.6,523.6 391.3,524.9 392.7,525.4 C394.1,525.9 396.8,525.4 397.6,525.4 M389.3,518.5 C389.5,518.1 389.7,516.8 390.6,516.4 C391.5,516 394.1,516.1 394.8,516.1 M401.4,505.4 L404.5,526.8 M396.5,511.6 L409,514.7 M419.7,519.5 L411.4,518.9 M411.4,518.9 C411.4,519.5 410.7,521.5 411.2,522.5 C411.7,523.5 412.8,524.2 414.2,524.7 C415.6,525.2 418.8,525.3 419.7,525.4 M411.4,518.9 C411.8,518.5 412.6,517.1 413.5,516.8 C414.4,516.4 416.3,516.8 416.9,516.8 M423.8,518.5 L425.2,525.8 M425.2,522.7 L431.1,519.9 M434.9,515.7 L436.6,525.8 M436.6,511.6 L440.4,514 M452.9,517.1 C451.8,517.2 447.5,517.2 446,517.8 C444.5,518.4 443.6,519.9 443.9,520.6 C444.2,521.3 446.5,522.5 448,522 C449.5,521.5 452.1,518.5 452.9,517.8 M452.9,517.1 L456.3,528.9" fill="none" stroke="#000" stroke-width="2.3" stroke-linecap="round" stroke-linejoin="round"/></g>
<g transform="translate(14,340)"><path d="M364.7,499.8 C363.7,499.8 360.7,499 358.8,499.5 C356.9,500 354.7,500.8 353.3,502.6 C351.9,504.4 350.7,507.7 350.2,510.2 C349.7,512.7 349.9,515.6 350.5,517.8 C351.1,520 352.5,522.1 354,523.4 C355.5,524.7 358.6,525.1 359.5,525.4 M372.7,517.1 C372,516.9 369.9,515.5 368.5,515.7 C367.1,515.9 365,517.4 364.4,518.5 C363.8,519.6 364.2,521.7 365.1,522.3 C366,522.9 368.6,522.8 369.9,522 C371.2,521.2 372.2,518.5 372.7,517.8 M372.7,516.4 L373,524.7 M381.3,525.4 C381.2,523.2 380.8,516.3 381,512.3 C381.2,508.3 381.8,502.8 382.7,501.2 C383.6,499.6 385.4,501.2 386.5,502.6 C387.6,504 389.1,508.4 389.6,509.5 M377.5,515.4 L385.8,515 M398.6,519.3 L389.3,518.5 M389.3,518.5 C389.2,519.2 388.4,521.4 389,522.5 C389.6,523.6 391.3,524.9 392.7,525.4 C394.1,525.9 396.8,525.4 397.6,525.4 M389.3,518.5 C389.5,518.1 389.7,516.8 390.6,516.4 C391.5,516 394.1,516.1 394.8,516.1 M401.4,505.4 L404.5,526.8 M396.5,511.6 L409,514.7 M419.7,519.5 L411.4,518.9 M411.4,518.9 C411.4,519.5 410.7,521.5 411.2,522.5 C411.7,523.5 412.8,524.2 414.2,524.7 C415.6,525.2 418.8,525.3 419.7,525.4 M411.4,518.9 C411.8,518.5 412.6,517.1 413.5,516.8 C414.4,516.4 416.3,516.8 416.9,516.8 M423.8,518.5 L425.2,525.8 M425.2,522.7 L431.1,519.9 M434.9,515.7 L436.6,525.8 M436.6,511.6 L440.4,514 M452.9,517.1 C451.8,517.2 447.5,517.2 446,517.8 C444.5,518.4 443.6,519.9 443.9,520.6 C444.2,521.3 446.5,522.5 448,522 C449.5,521.5 452.1,518.5 452.9,517.8 M452.9,517.1 L456.3,528.9" fill="none" stroke="#000" stroke-width="2.3" stroke-linecap="round" stroke-linejoin="round"/></g>
<g transform="translate(871,5.3)"><path d="M364.7,499.8 C363.7,499.8 360.7,499 358.8,499.5 C356.9,500 354.7,500.8 353.3,502.6 C351.9,504.4 350.7,507.7 350.2,510.2 C349.7,512.7 349.9,515.6 350.5,517.8 C351.1,520 352.5,522.1 354,523.4 C355.5,524.7 358.6,525.1 359.5,525.4 M372.7,517.1 C372,516.9 369.9,515.5 368.5,515.7 C367.1,515.9 365,517.4 364.4,518.5 C363.8,519.6 364.2,521.7 365.1,522.3 C366,522.9 368.6,522.8 369.9,522 C371.2,521.2 372.2,518.5 372.7,517.8 M372.7,516.4 L373,524.7 M381.3,525.4 C381.2,523.2 380.8,516.3 381,512.3 C381.2,508.3 381.8,502.8 382.7,501.2 C383.6,499.6 385.4,501.2 386.5,502.6 C387.6,504 389.1,508.4 389.6,509.5 M377.5,515.4 L385.8,515 M398.6,519.3 L389.3,518.5 M389.3,518.5 C389.2,519.2 388.4,521.4 389,522.5 C389.6,523.6 391.3,524.9 392.7,525.4 C394.1,525.9 396.8,525.4 397.6,525.4 M389.3,518.5 C389.5,518.1 389.7,516.8 390.6,516.4 C391.5,516 394.1,516.1 394.8,516.1 M401.4,505.4 L404.5,526.8 M396.5,511.6 L409,514.7 M419.7,519.5 L411.4,518.9 M411.4,518.9 C411.4,519.5 410.7,521.5 411.2,522.5 C411.7,523.5 412.8,524.2 414.2,524.7 C415.6,525.2 418.8,525.3 419.7,525.4 M411.4,518.9 C411.8,518.5 412.6,517.1 413.5,516.8 C414.4,516.4 416.3,516.8 416.9,516.8 M423.8,518.5 L425.2,525.8 M425.2,522.7 L431.1,519.9 M434.9,515.7 L436.6,525.8 M436.6,511.6 L440.4,514 M452.9,517.1 C451.8,517.2 447.5,517.2 446,517.8 C444.5,518.4 443.6,519.9 443.9,520.6 C444.2,521.3 446.5,522.5 448,522 C449.5,521.5 452.1,518.5 452.9,517.8 M452.9,517.1 L456.3,528.9" fill="none" stroke="#000" stroke-width="2.3" stroke-linecap="round" stroke-linejoin="round"/></g>
<g transform="translate(871,331.4)"><path d="M364.7,499.8 C363.7,499.8 360.7,499 358.8,499.5 C356.9,500 354.7,500.8 353.3,502.6 C351.9,504.4 350.7,507.7 350.2,510.2 C349.7,512.7 349.9,515.6 350.5,517.8 C351.1,520 352.5,522.1 354,523.4 C355.5,524.7 358.6,525.1 359.5,525.4 M372.7,517.1 C372,516.9 369.9,515.5 368.5,515.7 C367.1,515.9 365,517.4 364.4,518.5 C363.8,519.6 364.2,521.7 365.1,522.3 C366,522.9 368.6,522.8 369.9,522 C371.2,521.2 372.2,518.5 372.7,517.8 M372.7,516.4 L373,524.7 M381.3,525.4 C381.2,523.2 380.8,516.3 381,512.3 C381.2,508.3 381.8,502.8 382.7,501.2 C383.6,499.6 385.4,501.2 386.5,502.6 C387.6,504 389.1,508.4 389.6,509.5 M377.5,515.4 L385.8,515 M398.6,519.3 L389.3,518.5 M389.3,518.5 C389.2,519.2 388.4,521.4 389,522.5 C389.6,523.6 391.3,524.9 392.7,525.4 C394.1,525.9 396.8,525.4 397.6,525.4 M389.3,518.5 C389.5,518.1 389.7,516.8 390.6,516.4 C391.5,516 394.1,516.1 394.8,516.1 M401.4,505.4 L404.5,526.8 M396.5,511.6 L409,514.7 M419.7,519.5 L411.4,518.9 M411.4,518.9 C411.4,519.5 410.7,521.5 411.2,522.5 C411.7,523.5 412.8,524.2 414.2,524.7 C415.6,525.2 418.8,525.3 419.7,525.4 M411.4,518.9 C411.8,518.5 412.6,517.1 413.5,516.8 C414.4,516.4 416.3,516.8 416.9,516.8 M423.8,518.5 L425.2,525.8 M425.2,522.7 L431.1,519.9 M434.9,515.7 L436.6,525.8 M436.6,511.6 L440.4,514 M452.9,517.1 C451.8,517.2 447.5,517.2 446,517.8 C444.5,518.4 443.6,519.9 443.9,520.6 C444.2,521.3 446.5,522.5 448,522 C449.5,521.5 452.1,518.5 452.9,517.8 M452.9,517.1 L456.3,528.9" fill="none" stroke="#000" stroke-width="2.3" stroke-linecap="round" stroke-linejoin="round"/></g>
<g transform="translate(0,0)"><path d="M753.5,602 C753.7,601.3 754.1,599 754.5,598 C754.9,597 755.1,596.3 756,596 C756.9,595.7 759.2,595.8 760,596 C760.8,596.2 761.1,597.1 761,597.5 C760.9,597.9 760.2,598.3 759.5,598.6 C758.8,598.9 757,599.1 756.5,599.2" fill="none" stroke="#000" stroke-width="3.2" stroke-linecap="round" stroke-linejoin="round"/></g>
<g transform="translate(180.5,0)"><path d="M753.5,602 C753.7,601.3 754.1,599 754.5,598 C754.9,597 755.1,596.3 756,596 C756.9,595.7 759.2,595.8 760,596 C760.8,596.2 761.1,597.1 761,597.5 C760.9,597.9 760.2,598.3 759.5,598.6 C758.8,598.9 757,599.1 756.5,599.2" fill="none" stroke="#000" stroke-width="3.2" stroke-linecap="round" stroke-linejoin="round"/></g>
<g transform="translate(0,190.5)"><path d="M753.5,602 C753.7,601.3 754.1,599 754.5,598 C754.9,597 755.1,596.3 756,596 C756.9,595.7 759.2,595.8 760,596 C760.8,596.2 761.1,597.1 761,597.5 C760.9,597.9 760.2,598.3 759.5,598.6 C758.8,598.9 757,599.1 756.5,599.2" fill="none" stroke="#000" stroke-width="3.2" stroke-linecap="round" stroke-linejoin="round"/></g>
<g transform="translate(182.5,188.5)"><path d="M753.5,602 C753.7,601.3 754.1,599 754.5,598 C754.9,597 755.1,596.3 756,596 C756.9,595.7 759.2,595.8 760,596 C760.8,596.2 761.1,597.1 761,597.5 C760.9,597.9 760.2,598.3 759.5,598.6 C758.8,598.9 757,599.1 756.5,599.2" fill="none" stroke="#000" stroke-width="3.2" stroke-linecap="round" stroke-linejoin="round"/></g>
</g>
<g id="cyan">
<g transform="translate(0,0)"><path d="M620,479.2 C634.2,479.4 653.8,479.7 665.8,481.9 C677.8,484.1 685.9,486.2 692,492.3 C698.1,498.4 701.9,509.8 702.5,518.5 C703.1,527.2 698.8,537.1 695.9,544.7 C693,552.3 691.5,558.6 685.4,564.3 C679.3,570 670.2,575.6 659.3,578.7 C648.4,581.9 633.1,584.5 620,583.2 C606.9,581.9 590.2,575.5 580.8,570.8 C571.4,566.1 568.8,561.6 563.8,555.1 C558.8,548.6 553.1,539.2 550.7,531.6 C548.3,524 547.6,516.3 549.4,509.3 C551.1,502.3 556,494.5 561.2,489.7 C566.4,484.9 571,482.4 580.8,480.6 C590.6,478.9 605.8,479 620,479.2 Z" fill="none" stroke="#a8ffff" stroke-width="6.8" stroke-linecap="round" stroke-linejoin="round"/><path d="M620,479.2 C634.2,479.4 653.8,479.7 665.8,481.9 C677.8,484.1 685.9,486.2 692,492.3 C698.1,498.4 701.9,509.8 702.5,518.5 C703.1,527.2 698.8,537.1 695.9,544.7 C693,552.3 691.5,558.6 685.4,564.3 C679.3,570 670.2,575.6 659.3,578.7 C648.4,581.9 633.1,584.5 620,583.2 C606.9,581.9 590.2,575.5 580.8,570.8 C571.4,566.1 568.8,561.6 563.8,555.1 C558.8,548.6 553.1,539.2 550.7,531.6 C548.3,524 547.6,516.3 549.4,509.3 C551.1,502.3 556,494.5 561.2,489.7 C566.4,484.9 571,482.4 580.8,480.6 C590.6,478.9 605.8,479 620,479.2 Z" fill="none" stroke="#00ffff" stroke-width="4.6" stroke-linecap="round" stroke-linejoin="round"/><path d="M604.2,455 L610.8,450 L614.9,448.2 L618.1,450.4 L621.1,457.8 L622,464.4 L618.2,466.3 L611.2,465.4 L607,465.2 L604.3,457.8 Z" fill="#a8ffff" stroke="#a8ffff" stroke-width="4.2" stroke-linejoin="round"/><path d="M604.2,455 L610.8,450 L614.9,448.2 L618.1,450.4 L621.1,457.8 L622,464.4 L618.2,466.3 L611.2,465.4 L607,465.2 L604.3,457.8 Z" fill="#00ffff" stroke="#00ffff" stroke-width="2" stroke-linejoin="round"/><path d="M624.4,449.6 C625.1,450.2 627.4,451.3 628.7,452.9 C630,454.5 631.6,457.2 632,459.4 C632.4,461.5 631.1,464.7 630.9,465.8 M635.2,446.4 C636.4,447.1 640,448.6 642.2,450.7 C644.4,452.8 647.2,455.6 648.2,458.8 C649.2,462 648.2,467.8 648.2,469.6" fill="none" stroke="#a8ffff" stroke-width="6.8" stroke-linecap="round" stroke-linejoin="round"/><path d="M624.4,449.6 C625.1,450.2 627.4,451.3 628.7,452.9 C630,454.5 631.6,457.2 632,459.4 C632.4,461.5 631.1,464.7 630.9,465.8 M635.2,446.4 C636.4,447.1 640,448.6 642.2,450.7 C644.4,452.8 647.2,455.6 648.2,458.8 C649.2,462 648.2,467.8 648.2,469.6" fill="none" stroke="#00ffff" stroke-width="4.6" stroke-linecap="round" stroke-linejoin="round"/><path d="M635.7,594.4 L641.6,591.1 L642.3,606.1 M635.1,606.8 L646.9,606.8" fill="none" stroke="#00ffff" stroke-width="2.3" stroke-linecap="round" stroke-linejoin="round"/></g>
<g transform="translate(225.5,-37.5)"><path d="M620,479.2 C634.2,479.4 653.8,479.7 665.8,481.9 C677.8,484.1 685.9,486.2 692,492.3 C698.1,498.4 701.9,509.8 702.5,518.5 C703.1,527.2 698.8,537.1 695.9,544.7 C693,552.3 691.5,558.6 685.4,564.3 C679.3,570 670.2,575.6 659.3,578.7 C648.4,581.9 633.1,584.5 620,583.2 C606.9,581.9 590.2,575.5 580.8,570.8 C571.4,566.1 568.8,561.6 563.8,555.1 C558.8,548.6 553.1,539.2 550.7,531.6 C548.3,524 547.6,516.3 549.4,509.3 C551.1,502.3 556,494.5 561.2,489.7 C566.4,484.9 571,482.4 580.8,480.6 C590.6,478.9 605.8,479 620,479.2 Z" fill="none" stroke="#a8ffff" stroke-width="6.8" stroke-linecap="round" stroke-linejoin="round"/><path d="M620,479.2 C634.2,479.4 653.8,479.7 665.8,481.9 C677.8,484.1 685.9,486.2 692,492.3 C698.1,498.4 701.9,509.8 702.5,518.5 C703.1,527.2 698.8,537.1 695.9,544.7 C693,552.3 691.5,558.6 685.4,564.3 C679.3,570 670.2,575.6 659.3,578.7 C648.4,581.9 633.1,584.5 620,583.2 C606.9,581.9 590.2,575.5 580.8,570.8 C571.4,566.1 568.8,561.6 563.8,555.1 C558.8,548.6 553.1,539.2 550.7,531.6 C548.3,524 547.6,516.3 549.4,509.3 C551.1,502.3 556,494.5 561.2,489.7 C566.4,484.9 571,482.4 580.8,480.6 C590.6,478.9 605.8,479 620,479.2 Z" fill="none" stroke="#00ffff" stroke-width="4.6" stroke-linecap="round" stroke-linejoin="round"/><path d="M604.2,455 L610.8,450 L614.9,448.2 L618.1,450.4 L621.1,457.8 L622,464.4 L618.2,466.3 L611.2,465.4 L607,465.2 L604.3,457.8 Z" fill="#a8ffff" stroke="#a8ffff" stroke-width="4.2" stroke-linejoin="round"/><path d="M604.2,455 L610.8,450 L614.9,448.2 L618.1,450.4 L621.1,457.8 L622,464.4 L618.2,466.3 L611.2,465.4 L607,465.2 L604.3,457.8 Z" fill="#00ffff" stroke="#00ffff" stroke-width="2" stroke-linejoin="round"/><path d="M624.4,449.6 C625.1,450.2 627.4,451.3 628.7,452.9 C630,454.5 631.6,457.2 632,459.4 C632.4,461.5 631.1,464.7 630.9,465.8 M635.2,446.4 C636.4,447.1 640,448.6 642.2,450.7 C644.4,452.8 647.2,455.6 648.2,458.8 C649.2,462 648.2,467.8 648.2,469.6" fill="none" stroke="#a8ffff" stroke-width="6.8" stroke-linecap="round" stroke-linejoin="round"/><path d="M624.4,449.6 C625.1,450.2 627.4,451.3 628.7,452.9 C630,454.5 631.6,457.2 632,459.4 C632.4,461.5 631.1,464.7 630.9,465.8 M635.2,446.4 C636.4,447.1 640,448.6 642.2,450.7 C644.4,452.8 647.2,455.6 648.2,458.8 C649.2,462 648.2,467.8 648.2,469.6" fill="none" stroke="#00ffff" stroke-width="4.6" stroke-linecap="round" stroke-linejoin="round"/><path d="M635.7,594.4 L641.6,591.1 L642.3,606.1 M635.1,606.8 L646.9,606.8" fill="none" stroke="#00ffff" stroke-width="2.3" stroke-linecap="round" stroke-linejoin="round"/></g>
<g transform="translate(439,0)"><path d="M620,479.2 C634.2,479.4 653.8,479.7 665.8,481.9 C677.8,484.1 685.9,486.2 692,492.3 C698.1,498.4 701.9,509.8 702.5,518.5 C703.1,527.2 698.8,537.1 695.9,544.7 C693,552.3 691.5,558.6 685.4,564.3 C679.3,570 670.2,575.6 659.3,578.7 C648.4,581.9 633.1,584.5 620,583.2 C606.9,581.9 590.2,575.5 580.8,570.8 C571.4,566.1 568.8,561.6 563.8,555.1 C558.8,548.6 553.1,539.2 550.7,531.6 C548.3,524 547.6,516.3 549.4,509.3 C551.1,502.3 556,494.5 561.2,489.7 C566.4,484.9 571,482.4 580.8,480.6 C590.6,478.9 605.8,479 620,479.2 Z" fill="none" stroke="#a8ffff" stroke-width="6.8" stroke-linecap="round" stroke-linejoin="round"/><path d="M620,479.2 C634.2,479.4 653.8,479.7 665.8,481.9 C677.8,484.1 685.9,486.2 692,492.3 C698.1,498.4 701.9,509.8 702.5,518.5 C703.1,527.2 698.8,537.1 695.9,544.7 C693,552.3 691.5,558.6 685.4,564.3 C679.3,570 670.2,575.6 659.3,578.7 C648.4,581.9 633.1,584.5 620,583.2 C606.9,581.9 590.2,575.5 580.8,570.8 C571.4,566.1 568.8,561.6 563.8,555.1 C558.8,548.6 553.1,539.2 550.7,531.6 C548.3,524 547.6,516.3 549.4,509.3 C551.1,502.3 556,494.5 561.2,489.7 C566.4,484.9 571,482.4 580.8,480.6 C590.6,478.9 605.8,479 620,479.2 Z" fill="none" stroke="#00ffff" stroke-width="4.6" stroke-linecap="round" stroke-linejoin="round"/><path d="M604.2,455 L610.8,450 L614.9,448.2 L618.1,450.4 L621.1,457.8 L622,464.4 L618.2,466.3 L611.2,465.4 L607,465.2 L604.3,457.8 Z" fill="#a8ffff" stroke="#a8ffff" stroke-width="4.2" stroke-linejoin="round"/><path d="M604.2,455 L610.8,450 L614.9,448.2 L618.1,450.4 L621.1,457.8 L622,464.4 L618.2,466.3 L611.2,465.4 L607,465.2 L604.3,457.8 Z" fill="#00ffff" stroke="#00ffff" stroke-width="2" stroke-linejoin="round"/><path d="M624.4,449.6 C625.1,450.2 627.4,451.3 628.7,452.9 C630,454.5 631.6,457.2 632,459.4 C632.4,461.5 631.1,464.7 630.9,465.8 M635.2,446.4 C636.4,447.1 640,448.6 642.2,450.7 C644.4,452.8 647.2,455.6 648.2,458.8 C649.2,462 648.2,467.8 648.2,469.6" fill="none" stroke="#a8ffff" stroke-width="6.8" stroke-linecap="round" stroke-linejoin="round"/><path d="M624.4,449.6 C625.1,450.2 627.4,451.3 628.7,452.9 C630,454.5 631.6,457.2 632,459.4 C632.4,461.5 631.1,464.7 630.9,465.8 M635.2,446.4 C636.4,447.1 640,448.6 642.2,450.7 C644.4,452.8 647.2,455.6 648.2,458.8 C649.2,462 648.2,467.8 648.2,469.6" fill="none" stroke="#00ffff" stroke-width="4.6" stroke-linecap="round" stroke-linejoin="round"/><path d="M635.7,594.4 L641.6,591.1 L642.3,606.1 M635.1,606.8 L646.9,606.8" fill="none" stroke="#00ffff" stroke-width="2.3" stroke-linecap="round" stroke-linejoin="round"/></g>
<g transform="translate(12.8,283)"><path d="M620,479.2 C634.2,479.4 653.8,479.7 665.8,481.9 C677.8,484.1 685.9,486.2 692,492.3 C698.1,498.4 701.9,509.8 702.5,518.5 C703.1,527.2 698.8,537.1 695.9,544.7 C693,552.3 691.5,558.6 685.4,564.3 C679.3,570 670.2,575.6 659.3,578.7 C648.4,581.9 633.1,584.5 620,583.2 C606.9,581.9 590.2,575.5 580.8,570.8 C571.4,566.1 568.8,561.6 563.8,555.1 C558.8,548.6 553.1,539.2 550.7,531.6 C548.3,524 547.6,516.3 549.4,509.3 C551.1,502.3 556,494.5 561.2,489.7 C566.4,484.9 571,482.4 580.8,480.6 C590.6,478.9 605.8,479 620,479.2 Z" fill="none" stroke="#a8ffff" stroke-width="6.8" stroke-linecap="round" stroke-linejoin="round"/><path d="M620,479.2 C634.2,479.4 653.8,479.7 665.8,481.9 C677.8,484.1 685.9,486.2 692,492.3 C698.1,498.4 701.9,509.8 702.5,518.5 C703.1,527.2 698.8,537.1 695.9,544.7 C693,552.3 691.5,558.6 685.4,564.3 C679.3,570 670.2,575.6 659.3,578.7 C648.4,581.9 633.1,584.5 620,583.2 C606.9,581.9 590.2,575.5 580.8,570.8 C571.4,566.1 568.8,561.6 563.8,555.1 C558.8,548.6 553.1,539.2 550.7,531.6 C548.3,524 547.6,516.3 549.4,509.3 C551.1,502.3 556,494.5 561.2,489.7 C566.4,484.9 571,482.4 580.8,480.6 C590.6,478.9 605.8,479 620,479.2 Z" fill="none" stroke="#00ffff" stroke-width="4.6" stroke-linecap="round" stroke-linejoin="round"/><path d="M604.2,455 L610.8,450 L614.9,448.2 L618.1,450.4 L621.1,457.8 L622,464.4 L618.2,466.3 L611.2,465.4 L607,465.2 L604.3,457.8 Z" fill="#a8ffff" stroke="#a8ffff" stroke-width="4.2" stroke-linejoin="round"/><path d="M604.2,455 L610.8,450 L614.9,448.2 L618.1,450.4 L621.1,457.8 L622,464.4 L618.2,466.3 L611.2,465.4 L607,465.2 L604.3,457.8 Z" fill="#00ffff" stroke="#00ffff" stroke-width="2" stroke-linejoin="round"/><path d="M624.4,449.6 C625.1,450.2 627.4,451.3 628.7,452.9 C630,454.5 631.6,457.2 632,459.4 C632.4,461.5 631.1,464.7 630.9,465.8 M635.2,446.4 C636.4,447.1 640,448.6 642.2,450.7 C644.4,452.8 647.2,455.6 648.2,458.8 C649.2,462 648.2,467.8 648.2,469.6" fill="none" stroke="#a8ffff" stroke-width="6.8" stroke-linecap="round" stroke-linejoin="round"/><path d="M624.4,449.6 C625.1,450.2 627.4,451.3 628.7,452.9 C630,454.5 631.6,457.2 632,459.4 C632.4,461.5 631.1,464.7 630.9,465.8 M635.2,446.4 C636.4,447.1 640,448.6 642.2,450.7 C644.4,452.8 647.2,455.6 648.2,458.8 C649.2,462 648.2,467.8 648.2,469.6" fill="none" stroke="#00ffff" stroke-width="4.6" stroke-linecap="round" stroke-linejoin="round"/><path d="M635.7,594.4 L641.6,591.1 L642.3,606.1 M635.1,606.8 L646.9,606.8" fill="none" stroke="#00ffff" stroke-width="2.3" stroke-linecap="round" stroke-linejoin="round"/></g>
<g transform="translate(444,281)"><path d="M620,479.2 C634.2,479.4 653.8,479.7 665.8,481.9 C677.8,484.1 685.9,486.2 692,492.3 C698.1,498.4 701.9,509.8 702.5,518.5 C703.1,527.2 698.8,537.1 695.9,544.7 C693,552.3 691.5,558.6 685.4,564.3 C679.3,570 670.2,575.6 659.3,578.7 C648.4,581.9 633.1,584.5 620,583.2 C606.9,581.9 590.2,575.5 580.8,570.8 C571.4,566.1 568.8,561.6 563.8,555.1 C558.8,548.6 553.1,539.2 550.7,531.6 C548.3,524 547.6,516.3 549.4,509.3 C551.1,502.3 556,494.5 561.2,489.7 C566.4,484.9 571,482.4 580.8,480.6 C590.6,478.9 605.8,479 620,479.2 Z" fill="none" stroke="#a8ffff" stroke-width="6.8" stroke-linecap="round" stroke-linejoin="round"/><path d="M620,479.2 C634.2,479.4 653.8,479.7 665.8,481.9 C677.8,484.1 685.9,486.2 692,492.3 C698.1,498.4 701.9,509.8 702.5,518.5 C703.1,527.2 698.8,537.1 695.9,544.7 C693,552.3 691.5,558.6 685.4,564.3 C679.3,570 670.2,575.6 659.3,578.7 C648.4,581.9 633.1,584.5 620,583.2 C606.9,581.9 590.2,575.5 580.8,570.8 C571.4,566.1 568.8,561.6 563.8,555.1 C558.8,548.6 553.1,539.2 550.7,531.6 C548.3,524 547.6,516.3 549.4,509.3 C551.1,502.3 556,494.5 561.2,489.7 C566.4,484.9 571,482.4 580.8,480.6 C590.6,478.9 605.8,479 620,479.2 Z" fill="none" stroke="#00ffff" stroke-width="4.6" stroke-linecap="round" stroke-linejoin="round"/><path d="M604.2,455 L610.8,450 L614.9,448.2 L618.1,450.4 L621.1,457.8 L622,464.4 L618.2,466.3 L611.2,465.4 L607,465.2 L604.3,457.8 Z" fill="#a8ffff" stroke="#a8ffff" stroke-width="4.2" stroke-linejoin="round"/><path d="M604.2,455 L610.8,450 L614.9,448.2 L618.1,450.4 L621.1,457.8 L622,464.4 L618.2,466.3 L611.2,465.4 L607,465.2 L604.3,457.8 Z" fill="#00ffff" stroke="#00ffff" stroke-width="2" stroke-linejoin="round"/><path d="M624.4,449.6 C625.1,450.2 627.4,451.3 628.7,452.9 C630,454.5 631.6,457.2 632,459.4 C632.4,461.5 631.1,464.7 630.9,465.8 M635.2,446.4 C636.4,447.1 640,448.6 642.2,450.7 C644.4,452.8 647.2,455.6 648.2,458.8 C649.2,462 648.2,467.8 648.2,469.6" fill="none" stroke="#a8ffff" stroke-width="6.8" stroke-linecap="round" stroke-linejoin="round"/><path d="M624.4,449.6 C625.1,450.2 627.4,451.3 628.7,452.9 C630,454.5 631.6,457.2 632,459.4 C632.4,461.5 631.1,464.7 630.9,465.8 M635.2,446.4 C636.4,447.1 640,448.6 642.2,450.7 C644.4,452.8 647.2,455.6 648.2,458.8 C649.2,462 648.2,467.8 648.2,469.6" fill="none" stroke="#00ffff" stroke-width="4.6" stroke-linecap="round" stroke-linejoin="round"/><path d="M635.7,594.4 L641.6,591.1 L642.3,606.1 M635.1,606.8 L646.9,606.8" fill="none" stroke="#00ffff" stroke-width="2.3" stroke-linecap="round" stroke-linejoin="round"/></g>
<path d="M845,816 C835.2,816.2 822.1,815.8 812.3,817.9 C802.5,820 793.4,823.8 786.2,828.4 C779,833 772.9,839.5 769.2,845.4 C765.5,851.3 764.1,858 763.9,863.7 C763.7,869.4 765.2,874.8 767.8,879.4 C770.4,884 774.4,887.1 779.6,891.2 C784.8,895.4 791.6,900.4 799.2,904.3 C806.8,908.2 815.6,911.9 825.4,914.7 C835.2,917.5 849.4,920.4 858.1,921.3 C866.8,922.2 871.2,921.8 877.7,920 C884.2,918.2 891.3,915.6 897.4,910.8 C903.5,906 910.5,898.2 914.4,891.2 C918.3,884.2 920,876.2 920.9,869 C921.8,861.8 921.4,854.1 919.6,848 C917.9,841.9 915.2,836.6 910.4,832.3 C905.6,827.9 897.3,824.5 890.8,821.9 C884.3,819.3 878.8,817.6 871.2,816.6 C863.6,815.6 854.8,815.8 845,816 Z" fill="none" stroke="#a8ffff" stroke-width="6.8" stroke-linecap="round" stroke-linejoin="round"/><path d="M845,816 C835.2,816.2 822.1,815.8 812.3,817.9 C802.5,820 793.4,823.8 786.2,828.4 C779,833 772.9,839.5 769.2,845.4 C765.5,851.3 764.1,858 763.9,863.7 C763.7,869.4 765.2,874.8 767.8,879.4 C770.4,884 774.4,887.1 779.6,891.2 C784.8,895.4 791.6,900.4 799.2,904.3 C806.8,908.2 815.6,911.9 825.4,914.7 C835.2,917.5 849.4,920.4 858.1,921.3 C866.8,922.2 871.2,921.8 877.7,920 C884.2,918.2 891.3,915.6 897.4,910.8 C903.5,906 910.5,898.2 914.4,891.2 C918.3,884.2 920,876.2 920.9,869 C921.8,861.8 921.4,854.1 919.6,848 C917.9,841.9 915.2,836.6 910.4,832.3 C905.6,827.9 897.3,824.5 890.8,821.9 C884.3,819.3 878.8,817.6 871.2,816.6 C863.6,815.6 854.8,815.8 845,816 Z" fill="none" stroke="#00ffff" stroke-width="4.6" stroke-linecap="round" stroke-linejoin="round"/>
<path d="M797.9,916 C796.6,916.5 791.2,917.2 790.1,918.7 C789,920.2 789.6,923.7 791.4,925.2 C793.1,926.7 798.9,926.5 800.6,927.8 C802.4,929.1 803.6,931.4 801.9,933.1 C800.1,934.9 792.1,937.4 790.1,938.3 M807.1,917.4 L805.8,935.7 M801.9,923.9 L812.3,923.3 M812.7,932.5 a3.3,4 0 1,0 6.6,0 a3.3,4 0 1,0 -6.6,0 M820.8,927.5 L820.5,938 M826.7,930.4 L828,938.3 M828,933 L834.6,929.1 M842.4,920 L839.8,939.6 M833.3,930.4 L853.5,930.4" fill="none" stroke="#00ffff" stroke-width="2.3" stroke-linecap="round" stroke-linejoin="round"/>
<g transform="translate(0,0)"><path d="M476.8,523.4 C475,526.2 469.4,535.2 466,540 C462.6,544.8 461.2,548.7 456.2,552 C451.1,555.3 444.8,558.1 435.7,560 C426.6,561.9 412.8,563.8 401.4,563.4 C390,563 376.6,560.9 367.1,557.7 C357.6,554.5 350,549.3 344.3,544 C338.6,538.7 334.7,532.6 332.8,525.7 C330.9,518.8 332,509.9 332.8,502.8 C333.6,495.8 332.6,488.9 337.4,483.4 C342.2,477.9 354.2,472.6 361.4,469.7 C368.6,466.8 374.1,466.4 380.8,465.7 C387.5,465 394.2,465.4 401.4,465.7 C408.6,466 416.6,466 424.2,467.4 C431.8,468.8 441.3,471.5 447.1,474.3 C452.9,477.1 455.5,479.7 459,484 C462.5,488.3 465,493.4 468,500 C471,506.6 475.3,519.5 476.8,523.4" fill="none" stroke="#a8ffff" stroke-width="9" stroke-linecap="round" stroke-linejoin="round"/><path d="M476.8,523.4 C475,526.2 469.4,535.2 466,540 C462.6,544.8 461.2,548.7 456.2,552 C451.1,555.3 444.8,558.1 435.7,560 C426.6,561.9 412.8,563.8 401.4,563.4 C390,563 376.6,560.9 367.1,557.7 C357.6,554.5 350,549.3 344.3,544 C338.6,538.7 334.7,532.6 332.8,525.7 C330.9,518.8 332,509.9 332.8,502.8 C333.6,495.8 332.6,488.9 337.4,483.4 C342.2,477.9 354.2,472.6 361.4,469.7 C368.6,466.8 374.1,466.4 380.8,465.7 C387.5,465 394.2,465.4 401.4,465.7 C408.6,466 416.6,466 424.2,467.4 C431.8,468.8 441.3,471.5 447.1,474.3 C452.9,477.1 455.5,479.7 459,484 C462.5,488.3 465,493.4 468,500 C471,506.6 475.3,519.5 476.8,523.4" fill="none" stroke="#00ffff" stroke-width="6.8" stroke-linecap="round" stroke-linejoin="round"/><path d="M336.3,481.1 L362.6,477.7 M319.7,451.4 L330.6,474.3 M335.1,459.4 L330.6,474.3 L319.1,469.7 M468.8,448 L452.8,466.3 M475.7,461.7 L452.8,466.3 L451.7,450.3 M319.1,572.5 L337.4,552 M321.4,555.4 L337.4,552 L334,574.8 M473.4,577.1 L459.7,553.1 M476.8,566.8 L459.7,553.1 L459.7,570.2" fill="none" stroke="#a8ffff" stroke-width="7.4" stroke-linecap="round" stroke-linejoin="round"/><path d="M336.3,481.1 L362.6,477.7 M319.7,451.4 L330.6,474.3 M335.1,459.4 L330.6,474.3 L319.1,469.7 M468.8,448 L452.8,466.3 M475.7,461.7 L452.8,466.3 L451.7,450.3 M319.1,572.5 L337.4,552 M321.4,555.4 L337.4,552 L334,574.8 M473.4,577.1 L459.7,553.1 M476.8,566.8 L459.7,553.1 L459.7,570.2" fill="none" stroke="#00ffff" stroke-width="5.2" stroke-linecap="round" stroke-linejoin="round"/><path d="M472.2,472 C473,471.7 475.6,469.9 477,470 C478.4,470.1 480.3,471.3 480.5,472.5 C480.7,473.7 479.2,475.5 478,477 C476.8,478.5 474.2,480.8 473.5,481.5 M473.5,481.5 L482.5,482" fill="none" stroke="#00ffff" stroke-width="2" stroke-linecap="round" stroke-linejoin="round"/></g>
<g transform="translate(4.5,337)"><path d="M476.8,523.4 C475,526.2 469.4,535.2 466,540 C462.6,544.8 461.2,548.7 456.2,552 C451.1,555.3 444.8,558.1 435.7,560 C426.6,561.9 412.8,563.8 401.4,563.4 C390,563 376.6,560.9 367.1,557.7 C357.6,554.5 350,549.3 344.3,544 C338.6,538.7 334.7,532.6 332.8,525.7 C330.9,518.8 332,509.9 332.8,502.8 C333.6,495.8 332.6,488.9 337.4,483.4 C342.2,477.9 354.2,472.6 361.4,469.7 C368.6,466.8 374.1,466.4 380.8,465.7 C387.5,465 394.2,465.4 401.4,465.7 C408.6,466 416.6,466 424.2,467.4 C431.8,468.8 441.3,471.5 447.1,474.3 C452.9,477.1 455.5,479.7 459,484 C462.5,488.3 465,493.4 468,500 C471,506.6 475.3,519.5 476.8,523.4" fill="none" stroke="#a8ffff" stroke-width="9" stroke-linecap="round" stroke-linejoin="round"/><path d="M476.8,523.4 C475,526.2 469.4,535.2 466,540 C462.6,544.8 461.2,548.7 456.2,552 C451.1,555.3 444.8,558.1 435.7,560 C426.6,561.9 412.8,563.8 401.4,563.4 C390,563 376.6,560.9 367.1,557.7 C357.6,554.5 350,549.3 344.3,544 C338.6,538.7 334.7,532.6 332.8,525.7 C330.9,518.8 332,509.9 332.8,502.8 C333.6,495.8 332.6,488.9 337.4,483.4 C342.2,477.9 354.2,472.6 361.4,469.7 C368.6,466.8 374.1,466.4 380.8,465.7 C387.5,465 394.2,465.4 401.4,465.7 C408.6,466 416.6,466 424.2,467.4 C431.8,468.8 441.3,471.5 447.1,474.3 C452.9,477.1 455.5,479.7 459,484 C462.5,488.3 465,493.4 468,500 C471,506.6 475.3,519.5 476.8,523.4" fill="none" stroke="#00ffff" stroke-width="6.8" stroke-linecap="round" stroke-linejoin="round"/><path d="M336.3,481.1 L362.6,477.7 M319.7,451.4 L330.6,474.3 M335.1,459.4 L330.6,474.3 L319.1,469.7 M468.8,448 L452.8,466.3 M475.7,461.7 L452.8,466.3 L451.7,450.3 M319.1,572.5 L337.4,552 M321.4,555.4 L337.4,552 L334,574.8 M473.4,577.1 L459.7,553.1 M476.8,566.8 L459.7,553.1 L459.7,570.2" fill="none" stroke="#a8ffff" stroke-width="7.4" stroke-linecap="round" stroke-linejoin="round"/><path d="M336.3,481.1 L362.6,477.7 M319.7,451.4 L330.6,474.3 M335.1,459.4 L330.6,474.3 L319.1,469.7 M468.8,448 L452.8,466.3 M475.7,461.7 L452.8,466.3 L451.7,450.3 M319.1,572.5 L337.4,552 M321.4,555.4 L337.4,552 L334,574.8 M473.4,577.1 L459.7,553.1 M476.8,566.8 L459.7,553.1 L459.7,570.2" fill="none" stroke="#00ffff" stroke-width="5.2" stroke-linecap="round" stroke-linejoin="round"/><path d="M472.2,472 C473,471.7 475.6,469.9 477,470 C478.4,470.1 480.3,471.3 480.5,472.5 C480.7,473.7 479.2,475.5 478,477 C476.8,478.5 474.2,480.8 473.5,481.5 M473.5,481.5 L482.5,482" fill="none" stroke="#00ffff" stroke-width="2" stroke-linecap="round" stroke-linejoin="round"/></g>
<g transform="translate(872,2)"><path d="M476.8,523.4 C475,526.2 469.4,535.2 466,540 C462.6,544.8 461.2,548.7 456.2,552 C451.1,555.3 444.8,558.1 435.7,560 C426.6,561.9 412.8,563.8 401.4,563.4 C390,563 376.6,560.9 367.1,557.7 C357.6,554.5 350,549.3 344.3,544 C338.6,538.7 334.7,532.6 332.8,525.7 C330.9,518.8 332,509.9 332.8,502.8 C333.6,495.8 332.6,488.9 337.4,483.4 C342.2,477.9 354.2,472.6 361.4,469.7 C368.6,466.8 374.1,466.4 380.8,465.7 C387.5,465 394.2,465.4 401.4,465.7 C408.6,466 416.6,466 424.2,467.4 C431.8,468.8 441.3,471.5 447.1,474.3 C452.9,477.1 455.5,479.7 459,484 C462.5,488.3 465,493.4 468,500 C471,506.6 475.3,519.5 476.8,523.4" fill="none" stroke="#a8ffff" stroke-width="9" stroke-linecap="round" stroke-linejoin="round"/><path d="M476.8,523.4 C475,526.2 469.4,535.2 466,540 C462.6,544.8 461.2,548.7 456.2,552 C451.1,555.3 444.8,558.1 435.7,560 C426.6,561.9 412.8,563.8 401.4,563.4 C390,563 376.6,560.9 367.1,557.7 C357.6,554.5 350,549.3 344.3,544 C338.6,538.7 334.7,532.6 332.8,525.7 C330.9,518.8 332,509.9 332.8,502.8 C333.6,495.8 332.6,488.9 337.4,483.4 C342.2,477.9 354.2,472.6 361.4,469.7 C368.6,466.8 374.1,466.4 380.8,465.7 C387.5,465 394.2,465.4 401.4,465.7 C408.6,466 416.6,466 424.2,467.4 C431.8,468.8 441.3,471.5 447.1,474.3 C452.9,477.1 455.5,479.7 459,484 C462.5,488.3 465,493.4 468,500 C471,506.6 475.3,519.5 476.8,523.4" fill="none" stroke="#00ffff" stroke-width="6.8" stroke-linecap="round" stroke-linejoin="round"/><path d="M336.3,481.1 L362.6,477.7 M319.7,451.4 L330.6,474.3 M335.1,459.4 L330.6,474.3 L319.1,469.7 M468.8,448 L452.8,466.3 M475.7,461.7 L452.8,466.3 L451.7,450.3 M319.1,572.5 L337.4,552 M321.4,555.4 L337.4,552 L334,574.8 M473.4,577.1 L459.7,553.1 M476.8,566.8 L459.7,553.1 L459.7,570.2" fill="none" stroke="#a8ffff" stroke-width="7.4" stroke-linecap="round" stroke-linejoin="round"/><path d="M336.3,481.1 L362.6,477.7 M319.7,451.4 L330.6,474.3 M335.1,459.4 L330.6,474.3 L319.1,469.7 M468.8,448 L452.8,466.3 M475.7,461.7 L452.8,466.3 L451.7,450.3 M319.1,572.5 L337.4,552 M321.4,555.4 L337.4,552 L334,574.8 M473.4,577.1 L459.7,553.1 M476.8,566.8 L459.7,553.1 L459.7,570.2" fill="none" stroke="#00ffff" stroke-width="5.2" stroke-linecap="round" stroke-linejoin="round"/><path d="M472.2,472 C473,471.7 475.6,469.9 477,470 C478.4,470.1 480.3,471.3 480.5,472.5 C480.7,473.7 479.2,475.5 478,477 C476.8,478.5 474.2,480.8 473.5,481.5 M473.5,481.5 L482.5,482" fill="none" stroke="#00ffff" stroke-width="2" stroke-linecap="round" stroke-linejoin="round"/></g>
<g transform="translate(872,328)"><path d="M476.8,523.4 C475,526.2 469.4,535.2 466,540 C462.6,544.8 461.2,548.7 456.2,552 C451.1,555.3 444.8,558.1 435.7,560 C426.6,561.9 412.8,563.8 401.4,563.4 C390,563 376.6,560.9 367.1,557.7 C357.6,554.5 350,549.3 344.3,544 C338.6,538.7 334.7,532.6 332.8,525.7 C330.9,518.8 332,509.9 332.8,502.8 C333.6,495.8 332.6,488.9 337.4,483.4 C342.2,477.9 354.2,472.6 361.4,469.7 C368.6,466.8 374.1,466.4 380.8,465.7 C387.5,465 394.2,465.4 401.4,465.7 C408.6,466 416.6,466 424.2,467.4 C431.8,468.8 441.3,471.5 447.1,474.3 C452.9,477.1 455.5,479.7 459,484 C462.5,488.3 465,493.4 468,500 C471,506.6 475.3,519.5 476.8,523.4" fill="none" stroke="#a8ffff" stroke-width="9" stroke-linecap="round" stroke-linejoin="round"/><path d="M476.8,523.4 C475,526.2 469.4,535.2 466,540 C462.6,544.8 461.2,548.7 456.2,552 C451.1,555.3 444.8,558.1 435.7,560 C426.6,561.9 412.8,563.8 401.4,563.4 C390,563 376.6,560.9 367.1,557.7 C357.6,554.5 350,549.3 344.3,544 C338.6,538.7 334.7,532.6 332.8,525.7 C330.9,518.8 332,509.9 332.8,502.8 C333.6,495.8 332.6,488.9 337.4,483.4 C342.2,477.9 354.2,472.6 361.4,469.7 C368.6,466.8 374.1,466.4 380.8,465.7 C387.5,465 394.2,465.4 401.4,465.7 C408.6,466 416.6,466 424.2,467.4 C431.8,468.8 441.3,471.5 447.1,474.3 C452.9,477.1 455.5,479.7 459,484 C462.5,488.3 465,493.4 468,500 C471,506.6 475.3,519.5 476.8,523.4" fill="none" stroke="#00ffff" stroke-width="6.8" stroke-linecap="round" stroke-linejoin="round"/><path d="M336.3,481.1 L362.6,477.7 M319.7,451.4 L330.6,474.3 M335.1,459.4 L330.6,474.3 L319.1,469.7 M468.8,448 L452.8,466.3 M475.7,461.7 L452.8,466.3 L451.7,450.3 M319.1,572.5 L337.4,552 M321.4,555.4 L337.4,552 L334,574.8 M473.4,577.1 L459.7,553.1 M476.8,566.8 L459.7,553.1 L459.7,570.2" fill="none" stroke="#a8ffff" stroke-width="7.4" stroke-linecap="round" stroke-linejoin="round"/><path d="M336.3,481.1 L362.6,477.7 M319.7,451.4 L330.6,474.3 M335.1,459.4 L330.6,474.3 L319.1,469.7 M468.8,448 L452.8,466.3 M475.7,461.7 L452.8,466.3 L451.7,450.3 M319.1,572.5 L337.4,552 M321.4,555.4 L337.4,552 L334,574.8 M473.4,577.1 L459.7,553.1 M476.8,566.8 L459.7,553.1 L459.7,570.2" fill="none" stroke="#00ffff" stroke-width="5.2" stroke-linecap="round" stroke-linejoin="round"/><path d="M472.2,472 C473,471.7 475.6,469.9 477,470 C478.4,470.1 480.3,471.3 480.5,472.5 C480.7,473.7 479.2,475.5 478,477 C476.8,478.5 474.2,480.8 473.5,481.5 M473.5,481.5 L482.5,482" fill="none" stroke="#00ffff" stroke-width="2" stroke-linecap="round" stroke-linejoin="round"/></g>
</g>
</svg>
</body></html>
